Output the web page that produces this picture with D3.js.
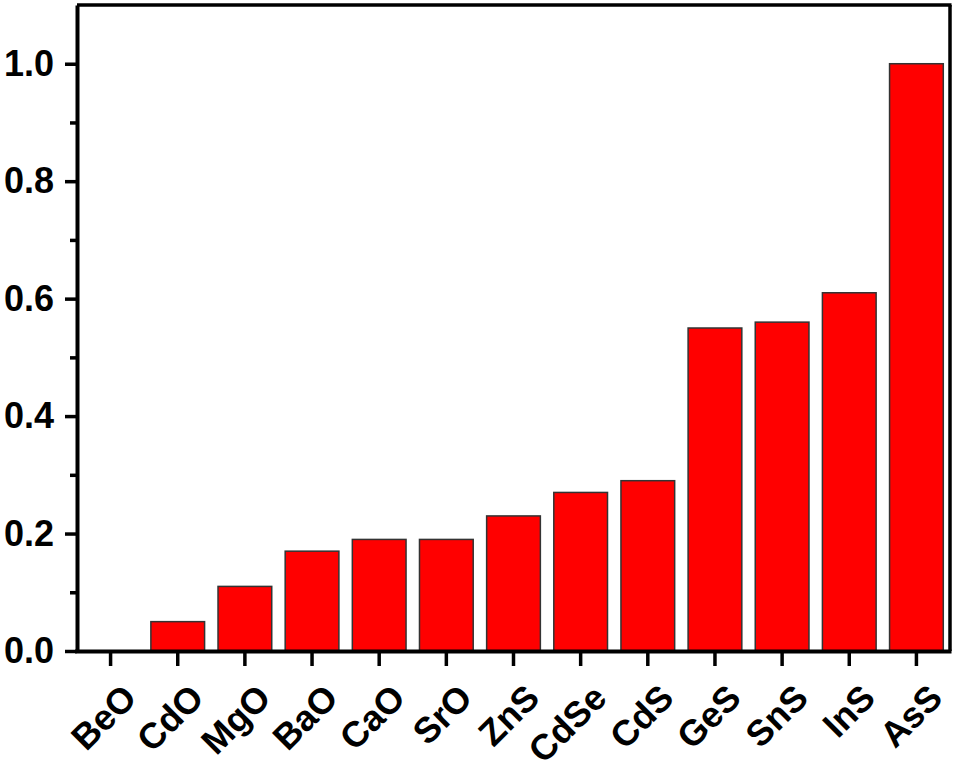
<!DOCTYPE html>
<html>
<head>
<meta charset="UTF-8">
<title>Bar chart</title>
<script src="https://cdn.jsdelivr.net/npm/d3@7"></script>
<style>
* { margin: 0; padding: 0; }
body { background: #fff; }
#chart { display: block; }
</style>
</head>
<body>
<svg id="chart" width="956" height="766"></svg>
<script>
// data
const categories = ["BeO", "CdO", "MgO", "BaO", "CaO", "SrO", "ZnS", "CdSe", "CdS", "GeS", "SnS", "InS", "AsS"];
const values = [0, 0.05, 0.11, 0.17, 0.19, 0.19, 0.23, 0.27, 0.29, 0.55, 0.56, 0.61, 1.0];
const yTicks = [0, 0.2, 0.4, 0.6, 0.8, 1.0];
const yMinorTicks = [0.1, 0.3, 0.5, 0.7, 0.9];

const plotLeft = 77, plotRight = 950, plotTop = 5, plotBottom = 651;
const font = "'Liberation Sans', Arial, sans-serif";

const svg = d3.select("#chart");

const x = d3.scaleBand()
    .domain(categories)
    .range([plotLeft, plotRight])
    .paddingInner(0.2)
    .paddingOuter(0.1);

const y = d3.scaleLinear()
    .domain([0, 1.1])
    .range([plotBottom, plotTop]);

// bars
svg.append("g")
    .selectAll("rect")
    .data(categories.map((c, i) => ({ name: c, value: values[i] })))
    .join("rect")
    .attr("x", d => x(d.name))
    .attr("y", d => y(d.value))
    .attr("width", x.bandwidth())
    .attr("height", d => plotBottom - y(d.value))
    .attr("fill", "#ff0000")
    .attr("stroke", "#333")
    .attr("stroke-width", 1.5);

// frame: top and right
svg.append("line")
    .attr("x1", plotLeft).attr("x2", plotRight + 1.5)
    .attr("y1", plotTop).attr("y2", plotTop)
    .attr("stroke", "#000").attr("stroke-width", 3.5);
svg.append("line")
    .attr("x1", plotRight).attr("x2", plotRight)
    .attr("y1", plotTop).attr("y2", plotBottom)
    .attr("stroke", "#000").attr("stroke-width", 3.5);

// y axis
const yAxis = svg.append("g")
    .attr("transform", `translate(${plotLeft},0)`)
    .call(d3.axisLeft(y).tickValues(yTicks).tickFormat(d3.format(".1f")).tickSize(12).tickSizeOuter(0));
yAxis.select(".domain").attr("stroke-width", 4);
yAxis.selectAll(".tick line").attr("stroke-width", 3.5);
yAxis.selectAll(".tick text")
    .attr("x", -23)
    .attr("font-family", font)
    .attr("font-weight", "bold")
    .attr("font-size", 36)
    .attr("fill", "#000");

svg.append("g")
    .attr("transform", `translate(${plotLeft},0)`)
    .call(d3.axisLeft(y).tickValues(yMinorTicks).tickFormat("").tickSize(7).tickSizeOuter(0))
    .call(g => g.select(".domain").remove())
    .selectAll(".tick line").attr("stroke-width", 3.5);

// x axis
const xAxis = svg.append("g")
    .attr("transform", `translate(0,${plotBottom})`)
    .call(d3.axisBottom(x).tickSize(15).tickSizeOuter(0));
xAxis.select(".domain").attr("stroke-width", 4)
    .attr("d", `M${plotLeft - 2},0.5H${plotRight + 1.5}`);
xAxis.selectAll(".tick line").attr("stroke-width", 3.5);
xAxis.selectAll(".tick text")
    .attr("font-family", font)
    .attr("font-weight", "bold")
    .attr("font-size", 36)
    .attr("fill", "#000")
    .attr("text-anchor", "end")
    .attr("x", 0)
    .attr("y", 0)
    .attr("dy", 0)
    .attr("transform", "translate(28,49) rotate(-45)");
</script>
</body>
</html>
